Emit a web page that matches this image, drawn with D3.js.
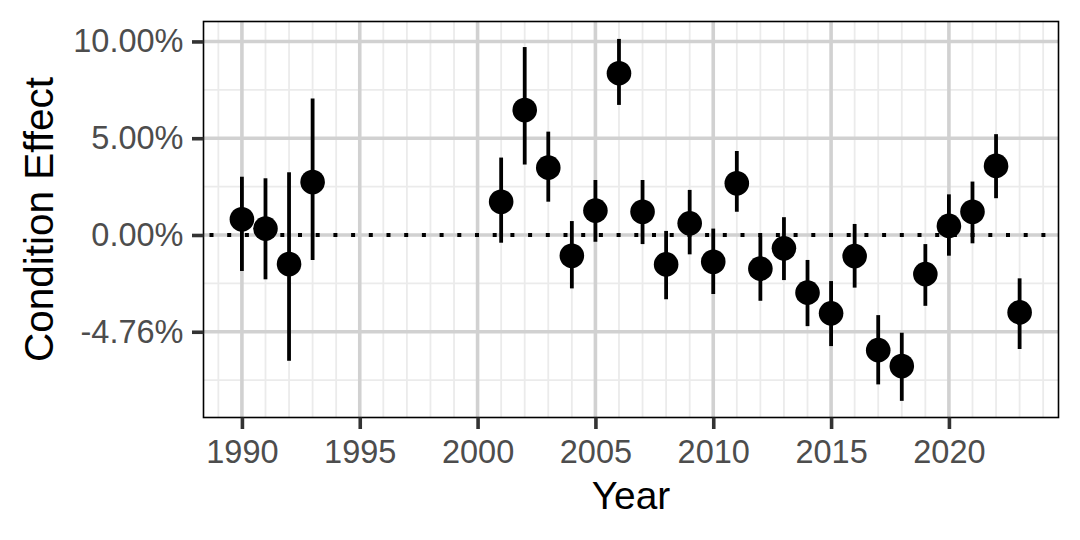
<!DOCTYPE html>
<html>
<head>
	<meta charset="utf-8">
	<script type="text/javascript" src="https://cdn.jsdelivr.net/npm/d3@7/dist/d3.min.js"></script>
	<title>Condition Effect</title>
	<style>
		body { margin: 0; background: #fff; }
		text { font-family: "Liberation Sans", Arial, Helvetica, sans-serif; }
	</style>
</head>
<body>
<script type="text/javascript">

	/*------ Data ------*/

	var years    = [1990, 1991, 1992, 1993, 2001, 2002, 2003, 2004, 2005, 2006, 2007, 2008, 2009, 2010,
	                2011, 2012, 2013, 2014, 2015, 2016, 2017, 2018, 2019, 2020, 2021, 2022, 2023];
	var estimate = [0.0081, 0.0033, -0.0150, 0.0274, 0.0172, 0.0646, 0.0348, -0.0107, 0.0126, 0.0836, 0.0120, -0.0152, 0.0060, -0.0138,
	                0.0267, -0.0174, -0.0069, -0.0298, -0.0405, -0.0109, -0.0595, -0.0677, -0.0202, 0.0047, 0.0120, 0.0357, -0.0400];
	var upper    = [0.0301, 0.0293, 0.0324, 0.0705, 0.0400, 0.0971, 0.0534, 0.0072, 0.0284, 0.1013, 0.0284, 0.0021, 0.0233, 0.0033,
	                0.0434, -0.0009, 0.0092, -0.0129, -0.0238, 0.0057, -0.0414, -0.0505, -0.0047, 0.0210, 0.0276, 0.0521, -0.0224];
	var lower    = [-0.0186, -0.0229, -0.0650, -0.0129, -0.0040, 0.0364, 0.0172, -0.0276, -0.0035, 0.0672, -0.0047, -0.0332, -0.0100, -0.0305,
	                0.0120, -0.0340, -0.0233, -0.0471, -0.0574, -0.0272, -0.0772, -0.0857, -0.0366, -0.0107, -0.0043, 0.0190, -0.0589];

	var xTicks = [1990, 1995, 2000, 2005, 2010, 2015, 2020];
	var yTicks = [-0.05, 0, 0.05, 0.10];
	var yTickLabels = ['-4.76%', '0.00%', '5.00%', '10.00%'];
	var yMinor = [-0.075, -0.025, 0.025, 0.075];

	/*----- Layout -----*/

	var svgWidth = 1080;
	var svgHeight = 540;
	var panel = { left: 203.5, right: 1058.5, top: 21.5, bottom: 417.5 };

	var svg = d3.select('body')
			.append('svg')
			.attr('width', svgWidth)
			.attr('height', svgHeight);

	var xScale = d3.scaleLinear()
			.domain([1988.37, 2024.65])
			.range([panel.left, panel.right]);

	var yScale = d3.scaleLinear()
			.domain([-0.0943, 0.1103])
			.range([panel.bottom, panel.top]);

	var points = years.map(function (y, i) {
		return { year: y, est: estimate[i], lo: lower[i], hi: upper[i] };
	});

	drawGrid();
	drawPoints();
	drawAxes();

	function drawGrid() {
		var grid = svg.append('g');

		// minor lines: every year on x, half steps on y
		grid.selectAll('.vminor')
			.data(d3.range(1989, 2025).filter(function (d) { return d % 5 != 0; }))
			.enter()
			.append('line')
			.attr('x1', function (d) { return xScale(d); })
			.attr('x2', function (d) { return xScale(d); })
			.attr('y1', panel.top)
			.attr('y2', panel.bottom)
			.attr('stroke', '#ebebeb')
			.attr('stroke-width', 1.8);

		grid.selectAll('.hminor')
			.data(yMinor)
			.enter()
			.append('line')
			.attr('x1', panel.left)
			.attr('x2', panel.right)
			.attr('y1', function (d) { return yScale(d); })
			.attr('y2', function (d) { return yScale(d); })
			.attr('stroke', '#ebebeb')
			.attr('stroke-width', 1.8);

		grid.selectAll('.vmajor')
			.data(xTicks)
			.enter()
			.append('line')
			.attr('x1', function (d) { return xScale(d); })
			.attr('x2', function (d) { return xScale(d); })
			.attr('y1', panel.top)
			.attr('y2', panel.bottom)
			.attr('stroke', '#d1d1d1')
			.attr('stroke-width', 3.6);

		grid.selectAll('.hmajor')
			.data(yTicks)
			.enter()
			.append('line')
			.attr('x1', panel.left)
			.attr('x2', panel.right)
			.attr('y1', function (d) { return yScale(d); })
			.attr('y2', function (d) { return yScale(d); })
			.attr('stroke', '#d1d1d1')
			.attr('stroke-width', 3.6);

		// dotted zero line
		grid.append('line')
			.attr('x1', panel.left)
			.attr('x2', panel.right)
			.attr('y1', yScale(0))
			.attr('y2', yScale(0))
			.attr('stroke', '#000')
			.attr('stroke-width', 3.8)
			.attr('stroke-dasharray', '4,13.7')
			.attr('stroke-dashoffset', -6);
	}

	function drawPoints() {
		svg.append('g').selectAll('line')
			.data(points)
			.enter()
			.append('line')
			.attr('x1', function (d) { return xScale(d.year); })
			.attr('x2', function (d) { return xScale(d.year); })
			.attr('y1', function (d) { return yScale(d.lo); })
			.attr('y2', function (d) { return yScale(d.hi); })
			.attr('stroke', '#000')
			.attr('stroke-width', 3.8);

		svg.append('g').selectAll('circle')
			.data(points)
			.enter()
			.append('circle')
			.attr('cx', function (d) { return xScale(d.year); })
			.attr('cy', function (d) { return yScale(d.est); })
			.attr('r', 12.3)
			.attr('fill', '#000');
	}

	function drawAxes() {
		// panel border
		svg.append('rect')
			.attr('x', panel.left)
			.attr('y', panel.top)
			.attr('width', panel.right - panel.left)
			.attr('height', panel.bottom - panel.top)
			.attr('fill', 'none')
			.attr('stroke', '#000')
			.attr('stroke-width', 1.6);

		var xAxis = svg.append('g')
			.attr('transform', 'translate(0,' + panel.bottom + ')')
			.call(d3.axisBottom(xScale)
				.tickValues(xTicks)
				.tickFormat(d3.format('d'))
				.tickSizeInner(11.5)
				.tickSizeOuter(0)
				.tickPadding(10.5));

		var yAxis = svg.append('g')
			.attr('transform', 'translate(' + panel.left + ',0)')
			.call(d3.axisLeft(yScale)
				.tickValues(yTicks)
				.tickFormat(function (d, i) { return yTickLabels[i]; })
				.tickSizeInner(11.5)
				.tickSizeOuter(0)
				.tickPadding(8.5));

		[xAxis, yAxis].forEach(function (ax) {
			ax.select('.domain').remove();
			ax.selectAll('.tick line').attr('stroke', '#333').attr('stroke-width', 3.6);
			ax.selectAll('.tick text')
				.attr('fill', '#4d4d4d')
				.attr('font-size', 32.5)
				.attr('font-family', '"Liberation Sans", Arial, sans-serif');
		});

		svg.append('text')
			.attr('x', (panel.left + panel.right) / 2)
			.attr('y', 509)
			.attr('text-anchor', 'middle')
			.attr('font-size', 38.9)
			.attr('fill', '#000')
			.text('Year');

		svg.append('text')
			.attr('transform', 'translate(53,' + ((panel.top + panel.bottom) / 2) + ') rotate(-90)')
			.attr('text-anchor', 'middle')
			.attr('font-size', 40.5)
			.attr('fill', '#000')
			.text('Condition Effect');
	}

</script>
</body>
</html>
